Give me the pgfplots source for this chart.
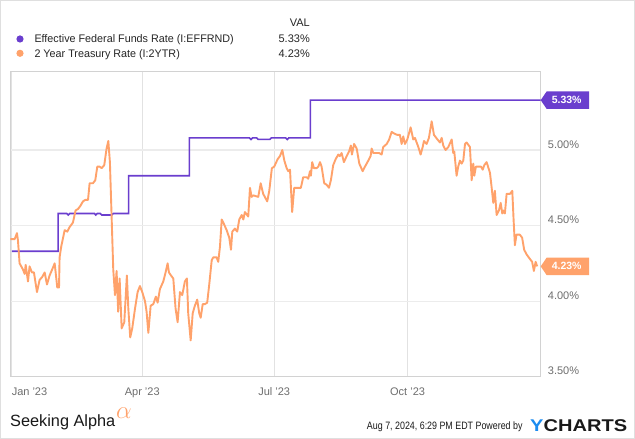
\documentclass[border=0pt]{standalone}
\usepackage{fontspec}
\setmainfont{Liberation Sans}
\usepackage{graphicx}
\usepackage{pgfplots}
\pgfplotsset{compat=1.18}

\definecolor{ffpurple}{RGB}{106,62,206}
\definecolor{tsorange}{RGB}{255,162,107}
\definecolor{axisgray}{RGB}{210,210,210}
\definecolor{gridgray}{RGB}{236,236,236}
\definecolor{vgridgray}{RGB}{226,226,226}
\definecolor{tickgray}{RGB}{110,110,110}
\definecolor{ycblue}{RGB}{28,140,240}

% days since 1 Jan 2023, rate in percent
\pgfplotstableread{
day rate
0 4.33
32 4.33
32 4.58
38 4.58
39 4.57
40 4.58
57 4.58
58 4.57
59 4.58
61 4.58
62 4.57
69 4.57
70 4.58
80.6 4.58
80.6 4.83
122.5 4.83
122.5 5.08
164 5.08
165 5.07
166 5.08
169 5.08
170 5.07
178 5.07
179 5.08
189 5.08
190 5.07
191 5.08
206 5.08
206 5.33
364.8 5.33
}\effr

\pgfplotstableread{
day rate
-1 4.41
2 4.41
3.6 4.45
4.3 4.40
5.4 4.25
7.7 4.21
8.9 4.18
9.6 4.24
11.2 4.13
12.3 4.23
13.9 4.19
15.3 4.19
17.4 4.06
19.2 4.14
21 4.16
22.7 4.19
24.3 4.11
26.1 4.17
27.9 4.21
29.6 4.25
31.4 4.09
32.6 4.09
33 4.29
34.1 4.36
36.5 4.47
38.3 4.46
39.9 4.49
42.2 4.52
44 4.60
45.7 4.61
47.3 4.63
49.1 4.66
50.7 4.67
52.6 4.67
53.7 4.78
56 4.78
57.6 4.80
59 4.89
60.6 4.89
62 4.88
63.8 4.90
65.4 5.01
66.6 5.06
67.7 4.92
68.9 4.55
70 4.21
71.2 4.04
72.3 4.20
73.4 3.93
74.4 4.15
75.8 3.82
77.6 3.86
79.4 4.17
80.4 3.95
81.7 3.76
83.1 3.82
85 3.95
86.8 4.06
88.4 4.10
90 4.06
91.9 4.00
93 3.93
94.2 3.79
95.8 3.97
97.6 3.98
99.4 4.03
100.6 3.99
102.2 4.08
104.5 4.13
106.1 4.19
107.5 4.25
108.4 4.19
109.8 4.17
111.4 4.15
113 3.95
114.4 3.86
116 4.06
117.6 4.04
119.4 4.13
120.8 4.15
121.7 3.92
123.4 3.74
124.8 3.92
126.3 3.97
127.9 4.01
129.3 3.92
130.3 3.89
131.7 3.98
133.2 3.98
134.8 3.99
136.2 4.11
137.9 4.27
139 4.29
141.3 4.29
142.4 4.26
143.6 4.36
144.8 4.54
145.9 4.52
148.2 4.47
150 4.42
151.2 4.34
152.1 4.46
153.9 4.48
155.5 4.46
156.9 4.54
158.6 4.57
159.7 4.54
160.8 4.59
163.1 4.56
164.3 4.75
165.4 4.69
166.6 4.70
170 4.69
171.7 4.78
173.4 4.71
176.2 4.66
177.6 4.73
179.4 4.88
181 4.89
183.4 4.94
185 4.96
186.6 5.00
188 4.93
189.6 4.88
190.7 4.86
191.9 4.87
193.4 4.59
194.8 4.75
197.6 4.75
199.4 4.75
201 4.82
203.4 4.82
204.5 4.81
205.7 4.86
206.3 4.83
207.2 4.92
208.4 4.88
210.3 4.88
211.4 4.89
212.6 4.92
213.7 4.89
215.5 4.78
217.2 4.77
218.8 4.75
220.1 4.80
221.7 4.90
223.4 4.94
225.2 4.97
226.3 4.96
227.5 4.98
229.1 4.92
231 4.96
232.6 4.99
233.9 5.03
234.6 4.97
236.1 5.04
237.9 5.01
239.7 4.91
242 4.86
243.6 4.89
245.9 4.93
247.5 4.96
248.2 5.01
249.3 4.98
251.6 4.98
253.4 4.98
255.1 4.97
256.2 5.02
258.6 5.04
260.3 5.07
262 5.12
263.6 5.11
265.9 5.10
267.7 5.10
268.9 5.04
270 5.09
271.2 5.04
272.8 5.07
275.1 5.15
276.9 5.07
278.1 5.08
280.4 5.02
282 4.97
283.4 5.02
284.3 5.06
286.1 5.04
287.7 5.08
289.6 5.19
291.2 5.10
293.6 5.07
295.3 5.05
296.5 5.08
297.6 5.03
299.2 5.00
301.1 5.02
303.4 5.07
304.5 4.98
305.2 4.99
306.8 4.83
307.9 4.89
309.1 4.93
310.3 4.91
311.4 4.93
312.6 5.04
313.7 5.05
316 5.02
317.2 4.80
318.3 4.91
319 4.83
320.1 4.89
321.7 4.89
323.6 4.89
324.8 4.87
325.9 4.90
327.5 4.92
329.8 4.85
331 4.75
332.1 4.65
333.2 4.73
334.4 4.57
336 4.60
337.2 4.65
338.3 4.58
339.2 4.60
340.1 4.58
341.3 4.71
343.6 4.71
345.2 4.73
346.1 4.54
347 4.37
348.1 4.44
350.4 4.44
352 4.42
353.4 4.34
355 4.31
357.3 4.28
358.9 4.26
360.1 4.20
361.3 4.26
362.4 4.23
}\twoyr

\begin{document}
\begin{tikzpicture}[x=1pt,y=1pt]
\fill[white] (0,0) rectangle (635,439);
\draw[gray!25, line width=0.8pt] (0.4,0.4) rectangle (634.6,438.6);

\begin{axis}[
  at={(10.3pt,62.3pt)}, anchor=south west,
  scale only axis, width=530.4pt, height=305.7pt,
  xmin=-1, xmax=364.8, ymin=3.5, ymax=5.523,
  axis line style={draw=axisgray, line width=0.8pt},
  xtick={0,90,181,273},
  xticklabels={\makebox[0pt][l]{Jan '23},Apr '23,Jul '23,Oct '23},
  ytick={3.5,4,4.5,5},
  yticklabels={3.50\%,4.00\%,4.50\%,5.00\%},
  yticklabel pos=right,
  major tick length=0pt,
  xmajorgrids, ymajorgrids,
  x grid style={vgridgray, line width=0.7pt},
  y grid style={gridgray, line width=1.1pt},
  tick label style={font=\fontsize{11}{13}\selectfont, text=tickgray},
  xticklabel style={anchor=base, inner sep=0pt, yshift=-19pt},
  yticklabel style={anchor=base west, inner sep=0pt, xshift=7pt, yshift=1.7pt},
]
\addplot[ffpurple, line width=1.6pt] table[x=day, y=rate] {\effr};
\addplot[tsorange, line width=1.9pt, line join=round] table[x=day, y=rate] {\twoyr};
\coordinate (ffr) at (axis cs:364.8,5.33);
\coordinate (tsr) at (axis cs:364.8,4.23);
\end{axis}

% value tags at the right edge
\fill[ffpurple] (ffr) -- ++(6,8.8) -- ++(42.3,0) -- ++(0,-17.6) -- ++(-42.3,0) -- cycle;
\node[text=white, font=\bfseries\fontsize{10.5}{12}\selectfont, inner sep=0pt] at ([xshift=26pt]ffr) {5.33\%};
\fill[tsorange] (tsr) -- ++(6,8.8) -- ++(42.3,0) -- ++(0,-17.6) -- ++(-42.3,0) -- cycle;
\node[text=white, font=\bfseries\fontsize{10.5}{12}\selectfont, inner sep=0pt] at ([xshift=26pt]tsr) {4.23\%};

% legend
\node[anchor=base east, inner sep=0pt, font=\fontsize{11}{13}\selectfont, text=black!85] at (310,412.3) {VAL};
\fill[ffpurple] (20,400) circle (3.6);
\node[anchor=base west, inner sep=0pt, font=\fontsize{11}{13}\selectfont, text=black!85] at (34.3,396.7) {\scalebox{0.98}[1]{Effective Federal Funds Rate (I:EFFRND)}};
\node[anchor=base east, inner sep=0pt, font=\fontsize{11}{13}\selectfont, text=black!85] at (310,396.7) {5.33\%};
\fill[tsorange] (20,385.7) circle (3.6);
\node[anchor=base west, inner sep=0pt, font=\fontsize{11}{13}\selectfont, text=black!85] at (34.3,381.7) {\scalebox{0.98}[1]{2 Year Treasury Rate (I:2YTR)}};
\node[anchor=base east, inner sep=0pt, font=\fontsize{11}{13}\selectfont, text=black!85] at (310,381.7) {4.23\%};

% footer
\node[anchor=base west, inner sep=0pt, font=\fontsize{16.3}{18}\selectfont, text=black!90] at (10,12.3) {Seeking Alpha};
\node[anchor=center, inner sep=0pt, text=tsorange, font=\fontsize{24}{26}\selectfont] at (124,26) {$\alpha$};
\node[anchor=base east, inner sep=0pt, font=\fontsize{10.7}{12}\selectfont, text=black!90] at (522.7,9.7) {\scalebox{0.83}[1]{Aug 7, 2024, 6:29 PM EDT Powered by}};
\node[anchor=base west, inner sep=0pt, font=\bfseries\fontsize{17}{19}\selectfont] at (530,7.3) {\scalebox{1.18}[1]{\textcolor{ycblue}{Y}\textcolor{black!90}{CHARTS}}};
\end{tikzpicture}
\end{document}
